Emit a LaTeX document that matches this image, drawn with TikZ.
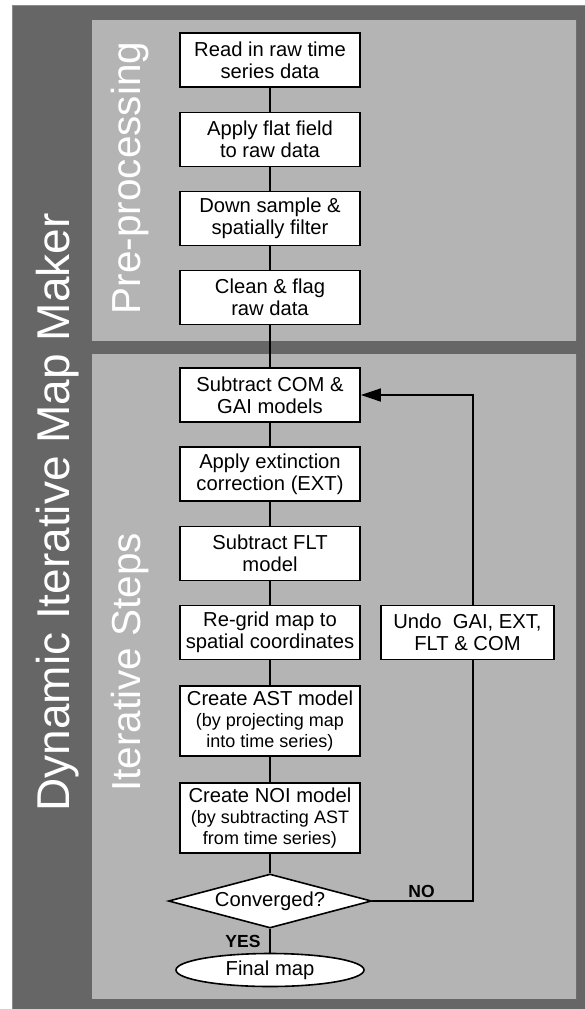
\documentclass[tikz,border=0pt]{standalone}
\usepackage{fontspec}
\setmainfont{Liberation Sans}
\usetikzlibrary{shapes.geometric,arrows.meta}
\definecolor{darkbg}{HTML}{666666}
\definecolor{lightbg}{HTML}{B4B4B4}
\definecolor{edgegray}{HTML}{8A8A8A}
\newcommand\smallsub{\fontsize{18}{20}\selectfont}
\begin{document}
\begin{tikzpicture}[x=1pt,y=-1pt,
  stepbox/.style={draw=black, fill=white, line width=1.6pt, minimum width=180pt,
    minimum height=54pt, inner sep=0pt, align=center, font=\fontsize{20.2}{22}\selectfont},
  tallbox/.style={stepbox, minimum height=70pt},
  conn/.style={draw=black, line width=1.4pt},
  title/.style={text=white, rotate=90, anchor=base, inner sep=0pt},
  lbl/.style={inner sep=0pt, font=\fontsize{17.5}{18}\selectfont\bfseries},
]
\useasboundingbox (0,0) rectangle (585,1009);
% background panels
\fill[darkbg] (12,5) rectangle (585,1009);
\draw[edgegray, line width=1pt] (12,1009) -- (12,5) -- (585,5);
\fill[lightbg] (92,20) rectangle (576,341);
\fill[lightbg] (92,354) rectangle (576,999);
\draw[edgegray!80!black, line width=0.8pt] (576,20) -- (576,341);
\draw[edgegray!80!black, line width=0.8pt] (576,354) -- (576,999);
% titles
\node[title, font=\fontsize{46}{46}\selectfont] (maintitle) at (69,512.5) {Dynamic Iterative Map Maker};
\node[title, font=\fontsize{40.5}{41}\selectfont] (pretitle) at (140,178) {Pre-processing};
\node[title, font=\fontsize{40.5}{41}\selectfont] (ittitle) at (140,662.5) {Iterative Steps};
% steps
\node[stepbox] (b1) at (270,60) {Read in raw time\\series data};
\node[stepbox] (b2) at (270,139.5) {Apply flat field\\to raw data};
\node[stepbox] (b3) at (270,218.5) {Down sample \&\\spatially filter};
\node[stepbox] (b4) at (270,297.5) {Clean \& flag\\raw data};
\node[stepbox] (b5) at (270,395) {Subtract COM \&\\GAI models};
\node[stepbox] (b6) at (270,474) {Apply extinction\\correction (EXT)};
\node[stepbox] (b7) at (270,553.5) {Subtract FLT\\model};
\node[stepbox] (b8) at (270,632.5) {Re-grid map to\\spatial coordinates};
\node[tallbox] (b9) at (270,721) {Create AST model\\[-1pt]\smallsub (by projecting map\\[-1pt]\smallsub into time series)};
\node[tallbox] (b10) at (270,818) {Create NOI model\\[-1pt]\smallsub (by subtracting AST\\[-1pt]\smallsub from time series)};
\node[stepbox, minimum width=173pt] (undo) at (467.5,632.5) {Undo\ \ GAI, EXT,\\FLT \& COM};
\node[draw=black, fill=white, shape=diamond, line width=1.6pt, minimum width=203pt,
  minimum height=54pt, inner sep=0pt, aspect=3.76, font=\fontsize{20.2}{22}\selectfont] (conv) at (270,901) {Converged?};
\node[draw=black, fill=white, shape=ellipse, line width=1.6pt, minimum width=188pt,
  minimum height=33pt, inner sep=0pt, font=\fontsize{20.2}{22}\selectfont] (final) at (270,970) {Final map};
% labels
\node[lbl] (no) at (421.5,891) {NO};
\node[lbl] (yes) at (243,941) {YES};
% connectors
\draw[conn] (b1) -- (b2);
\draw[conn] (b2) -- (b3);
\draw[conn] (b3) -- (b4);
\draw[conn] (b4) -- (b5);
\draw[conn] (b5) -- (b6);
\draw[conn] (b6) -- (b7);
\draw[conn] (b7) -- (b8);
\draw[conn] (b8) -- (b9);
\draw[conn] (b9) -- (b10);
\draw[conn] (b10.south) -- (conv.north);
\draw[conn] (conv.south) -- (final.north);
\coordinate (cr) at (473,901);
\draw[conn] (conv.east) -- (cr) -- (cr |- undo.south);
\draw[conn, -{Triangle[length=20pt,width=13pt]}] (cr |- undo.north) -- (cr |- b5.east) -- (b5.east);
\end{tikzpicture}
\end{document}
